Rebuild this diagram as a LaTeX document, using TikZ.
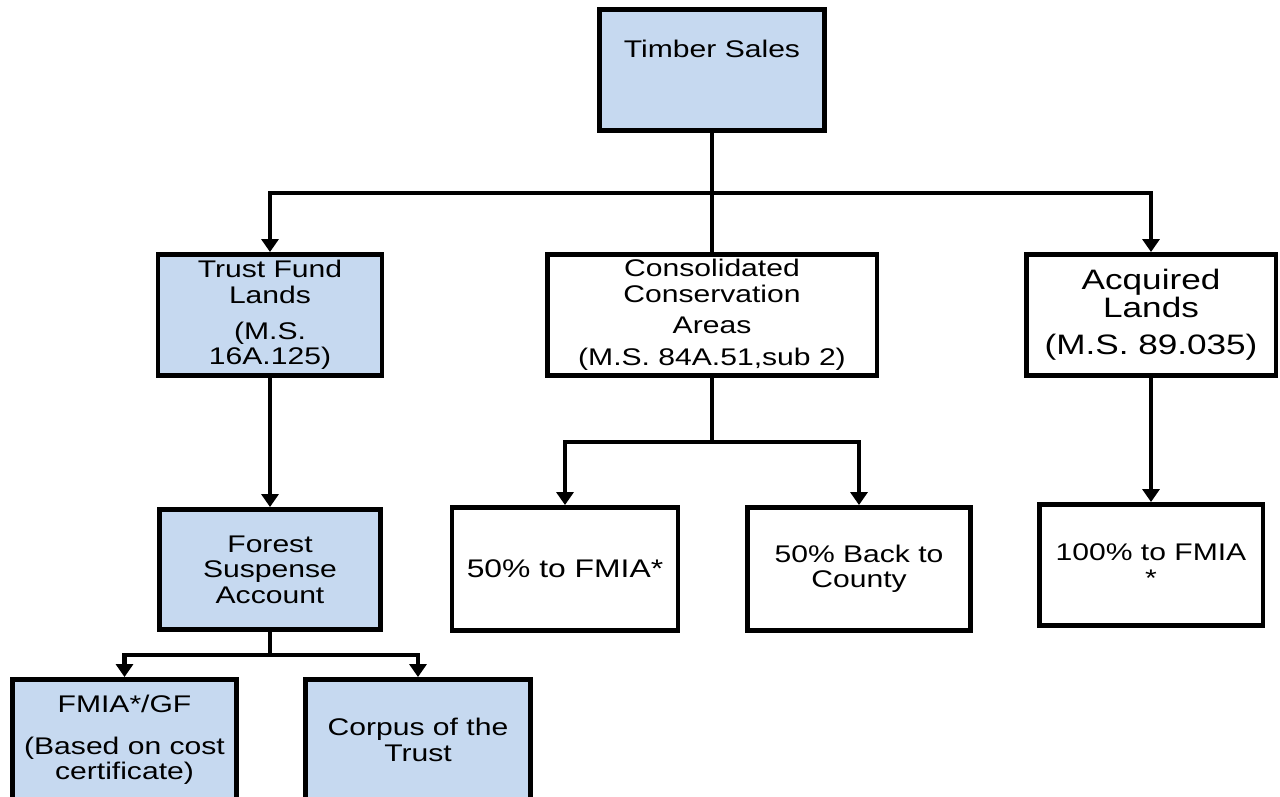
\documentclass[tikz,border=0pt]{standalone}
\usepackage{fontspec}
\setmainfont[FakeStretch=1.25]{Liberation Sans}
\usetikzlibrary{arrows.meta}
\definecolor{landblue}{RGB}{198,217,240}

\begin{document}
\begin{tikzpicture}[x=0.02cm,y=-0.02cm,
    box/.style={draw,line width=2.8pt,align=center,inner sep=0pt,
      minimum height=2.42cm,font=\fontsize{13.7}{14.5}\selectfont},
    bluebox/.style={box,fill=landblue},
    link/.style={line width=2.8pt},
    arrow/.style={link,-{Triangle[width=0.34cm,length=0.26cm]}}]
  \useasboundingbox (0,0) rectangle (1280,797);
  \clip (0,0) rectangle (1280,797);

  % top level
  \node[bluebox,minimum width=4.5cm,text height=0.97cm,text depth=1.45cm] (timber) at (712,70) {Timber Sales};

  % land types
  \node[bluebox,minimum width=4.48cm] (trust) at (270,315) {Trust Fund\\Lands\\[6pt](M.S.\\16A.125)};
  \node[box,minimum width=6.6cm] (cons) at (712,315) {Consolidated\\Conservation\\[3.5pt]Areas\\[3.5pt](M.S. 84A.51,sub 2)};
  \node[box,minimum width=5cm,font=\fontsize{16}{14}\selectfont] (acq) at (1151,315) {Acquired\\Lands\\[7pt](M.S. 89.035)};

  % shares
  \node[bluebox,minimum width=4.42cm,minimum height=2.4cm] (forest) at (270,569.5) {Forest\\Suspense\\Account};
  \node[box,minimum width=4.52cm,minimum height=2.46cm,font=\fontsize{14.5}{15}\selectfont] (fmia50) at (565,569) {50\% to FMIA*};
  \node[box,minimum width=4.46cm,minimum height=2.46cm] (back50) at (859,569) {50\% Back to\\County};
  \node[box,minimum width=4.48cm] (fmia100) at (1151,565) {100\% to FMIA\\*};

  % trust accounts
  \node[bluebox,minimum width=4.48cm] (fmiagf) at (124.5,740) {FMIA*/GF\\[9pt](Based on cost\\certificate)};
  \node[bluebox,minimum width=4.5cm] (corpus) at (418,740) {Corpus of the\\Trust};

  % connectors
  \coordinate (split) at (712,193);
  \draw[link] (timber) -- (cons);
  \draw[arrow] (split) -| (trust);
  \draw[arrow] (split) -| (acq);

  \draw[arrow] (trust) -- (forest);
  \coordinate (forest split) at (270,655);
  \draw[link] (forest) -- (forest split);
  \draw[arrow] (forest split) -| (fmiagf);
  \draw[arrow] (forest split) -| (corpus);

  \coordinate (cons split) at (712,442);
  \draw[link] (cons) -- (cons split);
  \draw[arrow] (cons split) -| (fmia50);
  \draw[arrow] (cons split) -| (back50);

  \draw[arrow] (acq) -- (fmia100);
\end{tikzpicture}
\end{document}
